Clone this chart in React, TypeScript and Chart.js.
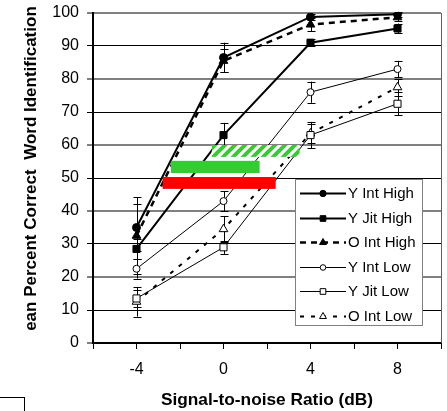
import React, { useEffect, useRef } from 'react';
import { Chart, registerables } from 'chart.js';

Chart.register(...registerables);

// ---- data ----
const SNR = [-4, 0, 4, 8];
const X_TICK_LABELS = ['-4', '0', '4', '8'];
const SERIES_NAMES = ['Y Int High', 'Y Jit High', 'O Int High', 'Y Int Low', 'Y Jit Low', 'O Int Low'];

const Y_INT_HIGH = [35, 86.5, 98.8, 99.6];
const Y_JIT_HIGH = [28.5, 63, 91, 95.3];
const O_INT_HIGH = [32.5, 85.5, 96.5, 98.7];
const Y_INT_LOW = [22.5, 43, 76, 83];
const Y_JIT_LOW = [13.5, 29, 63, 72.5];
const O_INT_LOW = [12.5, 34.5, 63.5, 77.5];

const ERR_Y_INT_HIGH = [7, 4.5, 1, 0.8];
const ERR_Y_JIT_HIGH = [3, 3.7, 1, 1.5];
const ERR_O_INT_HIGH = [11.7, 3.5, 2, 1.2];
const ERR_Y_INT_LOW = [3, 3, 3.2, 2.5];
const ERR_Y_JIT_LOW = [2.5, 2, 4, 3.5];
const ERR_O_INT_LOW = [4.5, 4, 3, 2.5];

// bands: [x from, x to, y from, y to] in data units
const RED_BAND = [-2.8, 2.4, 46.7, 50.3];
const GREEN_BAND = [-2.42, 1.66, 51.5, 55.2];
const HATCH_BAND = [-0.54, 3.5, 56.4, 60];

const FONT = "'Liberation Sans', Arial, sans-serif";
const GREEN = '#33CC33';
const RED = '#FF0000';

function drawMarker(ctx: CanvasRenderingContext2D, style: string, x: number, y: number, r: number, fill: string, lw: number) {
  ctx.save();
  ctx.beginPath();
  if (style === 'circle') {
    ctx.arc(x, y, r, 0, Math.PI * 2);
  } else if (style === 'rect') {
    const s = r * Math.SQRT1_2;
    ctx.rect(x - s, y - s, 2 * s, 2 * s);
  } else if (style === 'triangle') {
    const h = r * Math.sin(Math.PI / 3);
    ctx.moveTo(x, y - r);
    ctx.lineTo(x + h, y + r / 2);
    ctx.lineTo(x - h, y + r / 2);
    ctx.closePath();
  }
  ctx.fillStyle = fill;
  ctx.fill();
  ctx.lineWidth = lw;
  ctx.strokeStyle = '#000';
  ctx.setLineDash([]);
  ctx.stroke();
  ctx.restore();
}

function makeSeries(label: string, values: number[], errors: number[], opts: any) {
  return {
    label,
    data: SNR.map((x, i) => ({ x, y: values[i] })),
    errors,
    borderColor: '#000',
    pointBorderColor: '#000',
    pointBorderWidth: 1,
    tension: 0,
    fill: false,
    ...opts,
  };
}

const errorBarPlugin = {
  id: 'errorBars',
  beforeDatasetsDraw(chart: any) {
    const { ctx, scales } = chart;
    const xs = scales.x;
    const ys = scales.y;
    ctx.save();
    ctx.strokeStyle = '#000';
    ctx.lineWidth = 1;
    ctx.setLineDash([]);
    chart.data.datasets.forEach((ds: any) => {
      ds.data.forEach((p: any, i: number) => {
        const e = ds.errors[i];
        const px = Math.round(xs.getPixelForValue(p.x)) + 0.5;
        const yt = ys.getPixelForValue(p.y + e);
        const yb = ys.getPixelForValue(p.y - e);
        ctx.beginPath();
        ctx.moveTo(px, yt);
        ctx.lineTo(px, yb);
        ctx.moveTo(px - 4, Math.round(yt) + 0.5);
        ctx.lineTo(px + 4, Math.round(yt) + 0.5);
        ctx.moveTo(px - 4, Math.round(yb) + 0.5);
        ctx.lineTo(px + 4, Math.round(yb) + 0.5);
        ctx.stroke();
      });
    });
    ctx.restore();
  },
};

let hatchPattern: CanvasPattern | null = null;
function getHatch(ctx: CanvasRenderingContext2D) {
  if (hatchPattern) return hatchPattern;
  const t = document.createElement('canvas');
  t.width = 10;
  t.height = 10;
  const c = t.getContext('2d')!;
  c.fillStyle = '#fff';
  c.fillRect(0, 0, 10, 10);
  c.strokeStyle = GREEN;
  c.lineWidth = 4;
  c.beginPath();
  c.moveTo(-5, 5); c.lineTo(5, -5);
  c.moveTo(0, 10); c.lineTo(10, 0);
  c.moveTo(5, 15); c.lineTo(15, 5);
  c.stroke();
  hatchPattern = ctx.createPattern(t, 'repeat');
  return hatchPattern;
}

const overlayPlugin = {
  id: 'overlay',
  afterDraw(chart: any) {
    const { ctx, scales, chartArea } = chart;
    const xs = scales.x;
    const ys = scales.y;
    ctx.save();
    // right border of plot
    ctx.strokeStyle = '#606060';
    ctx.lineWidth = 1;
    ctx.beginPath();
    ctx.moveTo(Math.round(chartArea.right) + 0.5, chartArea.top);
    ctx.lineTo(Math.round(chartArea.right) + 0.5, chartArea.bottom);
    ctx.stroke();

    const band = (b: number[], fill: any) => {
      const x0 = xs.getPixelForValue(b[0]);
      const x1 = xs.getPixelForValue(b[1]);
      const y0 = ys.getPixelForValue(b[3]);
      const y1 = ys.getPixelForValue(b[2]);
      ctx.fillStyle = fill;
      ctx.fillRect(x0, y0, x1 - x0, y1 - y0);
    };
    band(RED_BAND, RED);
    band(GREEN_BAND, GREEN);
    band(HATCH_BAND, getHatch(ctx));

    // legend
    const bx = 295.5, by = 179.5, bw = 127, bh = 146;
    ctx.fillStyle = '#fff';
    ctx.fillRect(bx, by, bw, bh);
    ctx.strokeStyle = '#808080';
    ctx.lineWidth = 1;
    ctx.strokeRect(bx, by, bw, bh);
    ctx.font = `15px ${FONT}`;
    ctx.textBaseline = 'middle';
    ctx.textAlign = 'left';
    chart.data.datasets.forEach((ds: any, i: number) => {
      const ry = Math.round(193 + i * 24.6) + 0.5;
      ctx.save();
      ctx.strokeStyle = '#000';
      ctx.lineWidth = ds.borderWidth;
      ctx.setLineDash(ds.borderDash || []);
      ctx.beginPath();
      ctx.moveTo(300, ry);
      ctx.lineTo(346, ry);
      ctx.stroke();
      ctx.restore();
      drawMarker(ctx, ds.pointStyle, 323, ry, ds.pointRadius * 0.8, ds.pointBackgroundColor, 1);
      ctx.fillStyle = '#000';
      ctx.fillText(ds.label, 348, ry);
    });
    ctx.restore();
  },
};

export default function App() {
  const ref = useRef<HTMLCanvasElement>(null);

  useEffect(() => {
    const datasets = [
      makeSeries(SERIES_NAMES[0], Y_INT_HIGH, ERR_Y_INT_HIGH, { borderWidth: 2, pointStyle: 'circle', pointRadius: 4, pointBackgroundColor: '#000' }),
      makeSeries(SERIES_NAMES[1], Y_JIT_HIGH, ERR_Y_JIT_HIGH, { borderWidth: 2, pointStyle: 'rect', pointRadius: 5, pointBackgroundColor: '#000' }),
      makeSeries(SERIES_NAMES[2], O_INT_HIGH, ERR_O_INT_HIGH, { borderWidth: 2.5, borderDash: [6, 5], pointStyle: 'triangle', pointRadius: 5, pointBackgroundColor: '#000' }),
      makeSeries(SERIES_NAMES[3], Y_INT_LOW, ERR_Y_INT_LOW, { borderWidth: 1, pointStyle: 'circle', pointRadius: 3.5, pointBackgroundColor: '#fff' }),
      makeSeries(SERIES_NAMES[4], Y_JIT_LOW, ERR_Y_JIT_LOW, { borderWidth: 1, pointStyle: 'rect', pointRadius: 5, pointBackgroundColor: '#fff' }),
      makeSeries(SERIES_NAMES[5], O_INT_LOW, ERR_O_INT_LOW, { borderWidth: 2, borderDash: [4, 7], pointStyle: 'triangle', pointRadius: 5, pointBackgroundColor: '#fff' }),
    ];

    const chart = new Chart(ref.current!, {
      type: 'line',
      data: { datasets: datasets as any },
      options: {
        responsive: false,
        animation: false,
        devicePixelRatio: 1,
        layout: { padding: { top: 13, right: 5, bottom: 0, left: 0 } },
        plugins: {
          legend: { display: false },
          tooltip: { enabled: false },
        },
        scales: {
          x: {
            type: 'linear',
            min: -6,
            max: 10,
            afterFit: (s: any) => {
              s.height = 68;
              s.paddingLeft = 0;
              s.paddingRight = 0;
            },
            ticks: {
              stepSize: 2,
              autoSkip: false,
              maxRotation: 0,
              padding: 11,
              color: '#000',
              font: { family: FONT, size: 16 },
              callback: (v: any) => {
                const idx = SNR.indexOf(Number(v));
                return idx >= 0 ? X_TICK_LABELS[idx] : '';
              },
            },
            grid: {
              drawOnChartArea: false,
              drawTicks: true,
              tickLength: 6,
              tickColor: '#000',
              tickWidth: 1,
            },
            border: { color: '#000', width: 2 },
            title: {
              display: true,
              text: 'Signal-to-noise Ratio (dB)',
              color: '#000',
              font: { family: FONT, size: 17.3, weight: 'bold' },
              padding: { top: 0, bottom: 0 },
            },
          },
          y: {
            min: 0,
            max: 100,
            afterFit: (s: any) => {
              s.width = 93;
              s.paddingTop = 0;
              s.paddingBottom = 0;
            },
            ticks: {
              stepSize: 10,
              padding: 8,
              color: '#000',
              font: { family: FONT, size: 16 },
            },
            grid: {
              color: (c: any) => (c.tick && c.tick.value % 20 === 0 ? '#808080' : '#000000'),
              lineWidth: (c: any) => (c.tick && c.tick.value % 20 === 0 ? 2 : 1),
              drawTicks: true,
              tickLength: 6,
              tickColor: '#000',
              tickWidth: 1,
            },
            border: { color: '#000', width: 2 },
            title: {
              display: true,
              text: '    ean Percent Correct  Word Identification',
              color: '#000',
              font: { family: FONT, size: 17, weight: 'bold' },
              padding: { top: 21, bottom: 0 },
            },
          },
        },
      } as any,
      plugins: [errorBarPlugin, overlayPlugin],
    });
    return () => chart.destroy();
  }, []);

  return (
    <div style={{ position: 'absolute', left: 0, top: 0, width: 447, height: 411, overflow: 'hidden', background: '#fff' }}>
      <canvas ref={ref} width={447} height={411} style={{ display: 'block', width: 447, height: 411 }} />
      <div style={{ position: 'absolute', left: -2, top: 397, width: 25, height: 30, border: '1px solid #000' }} />
    </div>
  );
}
